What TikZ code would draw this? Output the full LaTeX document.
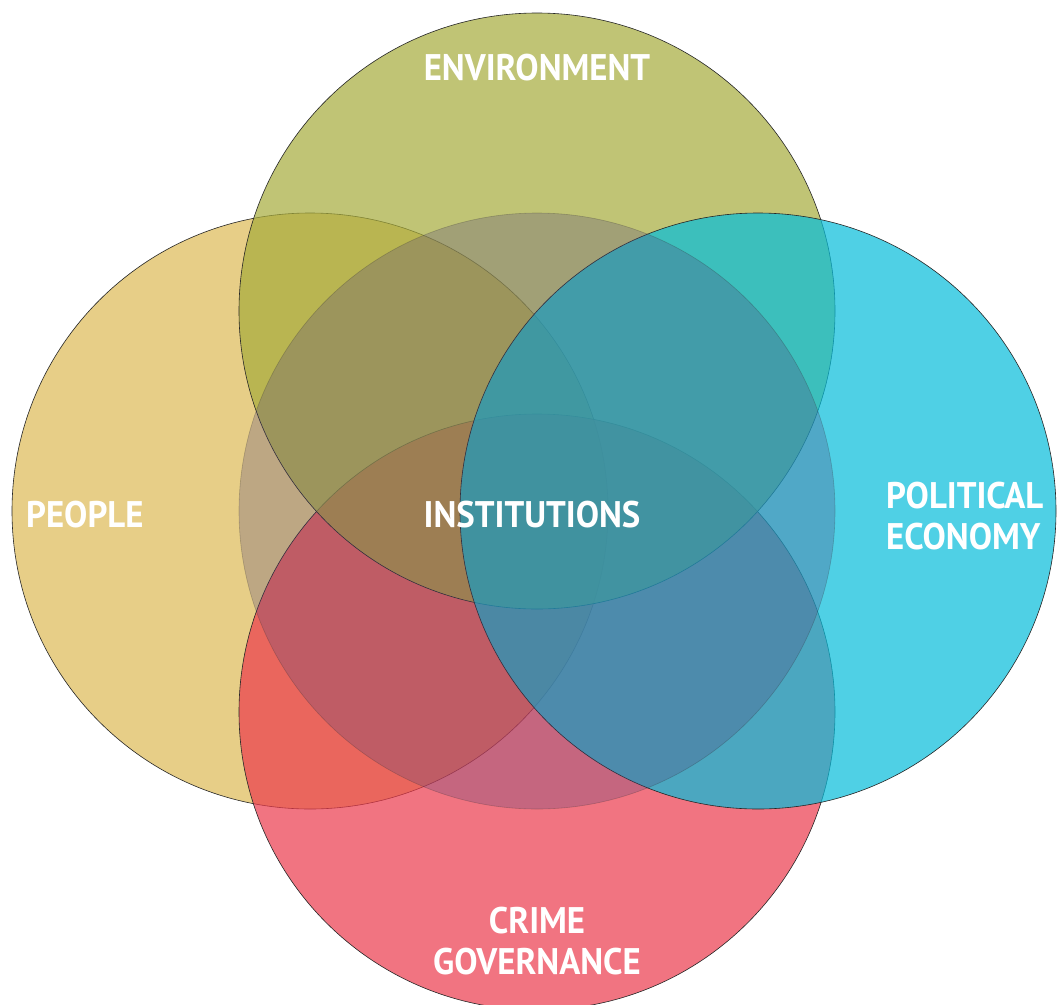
\documentclass[tikz,border=0pt]{standalone}
\usepackage{fontspec}
\setmainfont{PT Sans}[FakeStretch=0.94]
\definecolor{peoplefill}{RGB}{222,186,85}
\definecolor{crimefill}{RGB}{236,58,76}
\definecolor{envfill}{RGB}{166,171,59}
\definecolor{polfill}{RGB}{5,189,219}
\definecolor{instfill}{RGB}{83,67,122}
\tikzset{
  venn/.style={circle, draw=black!85, line width=0.6pt, fill opacity=0.7,
    minimum size=596pt, inner sep=0pt},
  lbl/.style={text=white, inner sep=0pt, align=center,
    font=\fontsize{37}{41}\selectfont\bfseries}
}
\begin{document}
\begin{tikzpicture}[x=1pt,y=-1pt]
\useasboundingbox (0,0) rectangle (1064,1004);
\fill[white] (0,0) rectangle (1064,1004);
% the circles, lowest first
\node[venn, fill=peoplefill] (people) at (310,511) {};
\node[venn, fill=crimefill] (crime) at (537,712) {};
\node[venn, fill=envfill] (env) at (537,311) {};
\node[venn, fill=polfill] (pol) at (758,511) {};
\node[venn, fill=instfill, fill opacity=0.28, draw opacity=0.25] (inst) at (537,511) {};
% labels
\node[lbl] (envlbl) at (537,68) {ENVIRONMENT};
\node[lbl, anchor=west] (peoplelbl) at (26,515) {PEOPLE};
\node[lbl] (instlbl) at (532,515) {INSTITUTIONS};
\node[lbl, anchor=west, align=left] (pollbl) at (886,516) {POLITICAL\\ECONOMY};
\node[lbl] (crimelbl) at (537,941) {CRIME\\GOVERNANCE};
\end{tikzpicture}
\end{document}
